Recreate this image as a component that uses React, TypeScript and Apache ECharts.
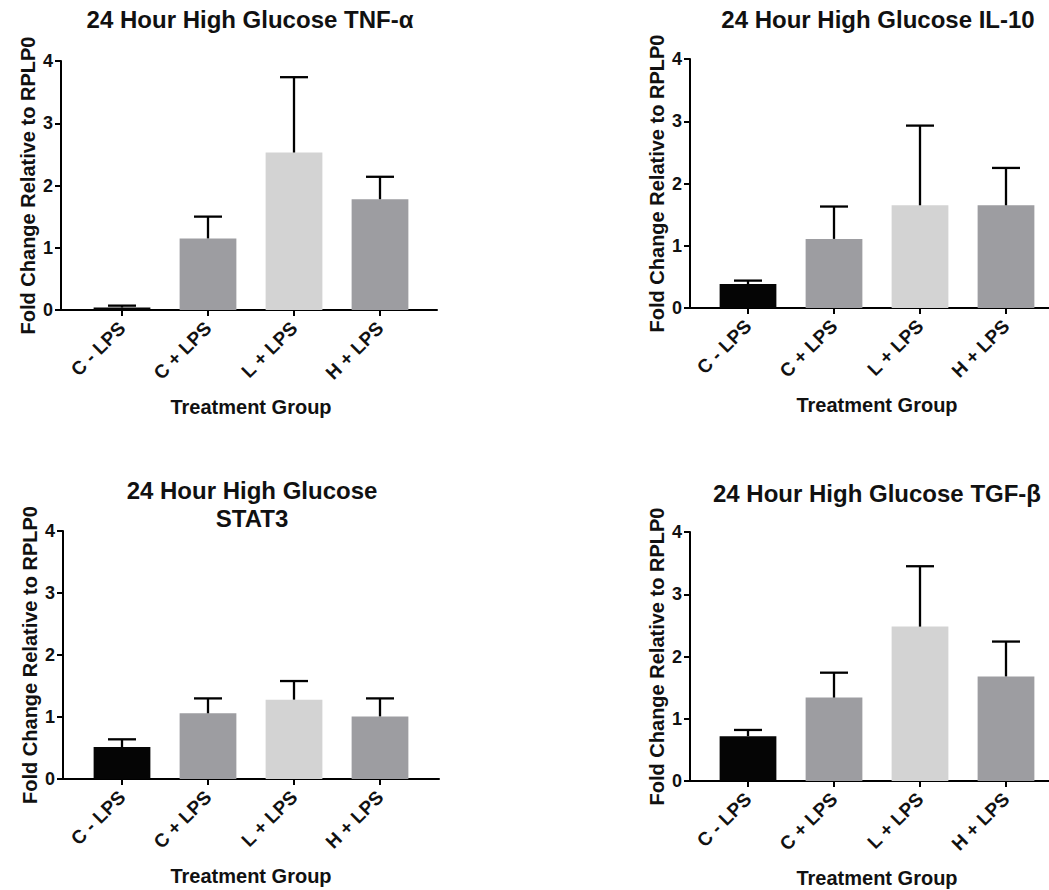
import React, { useEffect, useRef } from "react";
import * as echarts from "echarts";

const categories = ["C - LPS", "C + LPS", "L + LPS", "H + LPS"];
const yTicks = [0, 1, 2, 3, 4];

const tnfMean = [0.04, 1.15, 2.53, 1.78];
const tnfErr = [0.03, 0.35, 1.21, 0.36];
const il10Mean = [0.385, 1.11, 1.65, 1.65];
const il10Err = [0.055, 0.52, 1.28, 0.6];
const stat3Mean = [0.515, 1.06, 1.28, 1.01];
const stat3Err = [0.125, 0.24, 0.3, 0.29];
const tgfMean = [0.72, 1.34, 2.48, 1.68];
const tgfErr = [0.1, 0.4, 0.97, 0.56];

const titles = [
  "24 Hour High Glucose TNF-α",
  "24 Hour High Glucose IL-10",
  "24 Hour High Glucose\nSTAT3",
  "24 Hour High Glucose TGF-β",
];
const yName = "Fold Change Relative to RPLP0";
const xName = "Treatment Group";

const barColors = ["#050505", "#9d9da1", "#d3d3d3", "#9d9da1"];
const FONT = "'Liberation Sans', Arial, sans-serif";

// panel layouts: frame (axes) and bar band
const panels = [
  { mean: tnfMean, err: tnfErr, frameLeft: 61, frameWidth: 376, top: 61, height: 249, barLeft: 79, titleX: 250, titleY: 5 },
  { mean: il10Mean, err: il10Err, frameLeft: 690, frameWidth: 375, top: 59, height: 249, barLeft: 705, titleX: 878, titleY: 5 },
  { mean: stat3Mean, err: stat3Err, frameLeft: 63, frameWidth: 376, top: 531, height: 248, barLeft: 79, titleX: 252, titleY: 476 },
  { mean: tgfMean, err: tgfErr, frameLeft: 690, frameWidth: 375, top: 532, height: 249, barLeft: 705, titleX: 877, titleY: 479 },
];

export default function App() {
  const ref = useRef<HTMLDivElement>(null);
  useEffect(() => {
    if (!ref.current) return;
    const chart = echarts.init(ref.current, null, { renderer: "svg" });
    const grid: any[] = [];
    const xAxis: any[] = [];
    const yAxis: any[] = [];
    const series: any[] = [];
    const title: any[] = [];
    panels.forEach((p, k) => {
      const bi = 2 * k;
      const fi = 2 * k + 1;
      grid.push({ left: p.barLeft, top: p.top, width: 344, height: p.height });
      grid.push({ left: p.frameLeft, top: p.top, width: p.frameWidth, height: p.height });
      xAxis.push({
        gridIndex: bi,
        type: "category",
        data: categories,
        boundaryGap: true,
        axisLine: { show: false },
        axisTick: { show: true, alignWithLabel: true, length: 6, lineStyle: { color: "#000", width: 2 } },
        axisLabel: { rotate: 45, margin: 15, color: "#111", fontWeight: "bold", fontSize: 19, fontFamily: FONT, interval: 0 },
        name: xName,
        nameLocation: "middle",
        nameGap: 87,
        nameTextStyle: { color: "#111", fontWeight: "bold", fontSize: 20, fontFamily: FONT },
        splitLine: { show: false },
      });
      xAxis.push({
        gridIndex: fi,
        type: "value",
        min: 0,
        max: 1,
        axisLine: { show: true, lineStyle: { color: "#000", width: 2 } },
        axisTick: { show: false },
        axisLabel: { show: false },
        splitLine: { show: false },
      });
      yAxis.push({
        gridIndex: bi,
        type: "value",
        min: 0,
        max: 4,
        show: false,
        splitLine: { show: false },
      });
      yAxis.push({
        gridIndex: fi,
        type: "value",
        min: 0,
        max: 4,
        interval: 1,
        axisLine: { show: true, lineStyle: { color: "#000", width: 2 } },
        axisTick: { show: true, length: 6, lineStyle: { color: "#000", width: 2 } },
        axisLabel: {
          margin: 8,
          color: "#111",
          fontWeight: "bold",
          fontSize: 18,
          fontFamily: FONT,
          formatter: (v: number) => (yTicks.includes(v) ? String(v) : ""),
        },
        splitLine: { show: false },
        name: yName,
        nameLocation: "middle",
        nameGap: 23,
        nameTextStyle: { color: "#111", fontWeight: "bold", fontSize: 20, fontFamily: FONT },
      });
      series.push({
        type: "bar",
        xAxisIndex: bi,
        yAxisIndex: bi,
        barCategoryGap: "34%",
        data: p.mean.map((v, i) => ({ value: v, itemStyle: { color: barColors[i] } })),
        z: 2,
      });
      series.push({
        type: "custom",
        xAxisIndex: bi,
        yAxisIndex: bi,
        z: 3,
        data: p.mean.map((v, i) => [i, v, p.err[i]]),
        encode: { x: 0, y: 1 },
        renderItem: (params: any, api: any) => {
          const i = api.value(0);
          const m = api.value(1);
          const e = api.value(2);
          const base = api.coord([i, m]);
          const top = api.coord([i, m + e]);
          const half = 14;
          const st = { stroke: "#000", lineWidth: 2.3, fill: null };
          return {
            type: "group",
            children: [
              { type: "line", shape: { x1: base[0], y1: base[1], x2: top[0], y2: top[1] }, style: st },
              { type: "line", shape: { x1: top[0] - half, y1: top[1], x2: top[0] + half, y2: top[1] }, style: st },
            ],
          };
        },
      });
      title.push({
        text: titles[k],
        left: p.titleX,
        top: p.titleY,
        textAlign: "center",
        padding: 0,
        textStyle: { color: "#111", fontWeight: "bold", fontSize: 24, fontFamily: FONT, lineHeight: 28 },
      });
    });
    chart.setOption({
      animation: false,
      backgroundColor: "#fff",
      title,
      grid,
      xAxis,
      yAxis,
      series,
    });
    return () => chart.dispose();
  }, []);
  return (
    <div
      ref={ref}
      style={{ position: "fixed", left: 0, top: 0, width: 1049, height: 890, background: "#fff" }}
    />
  );
}
